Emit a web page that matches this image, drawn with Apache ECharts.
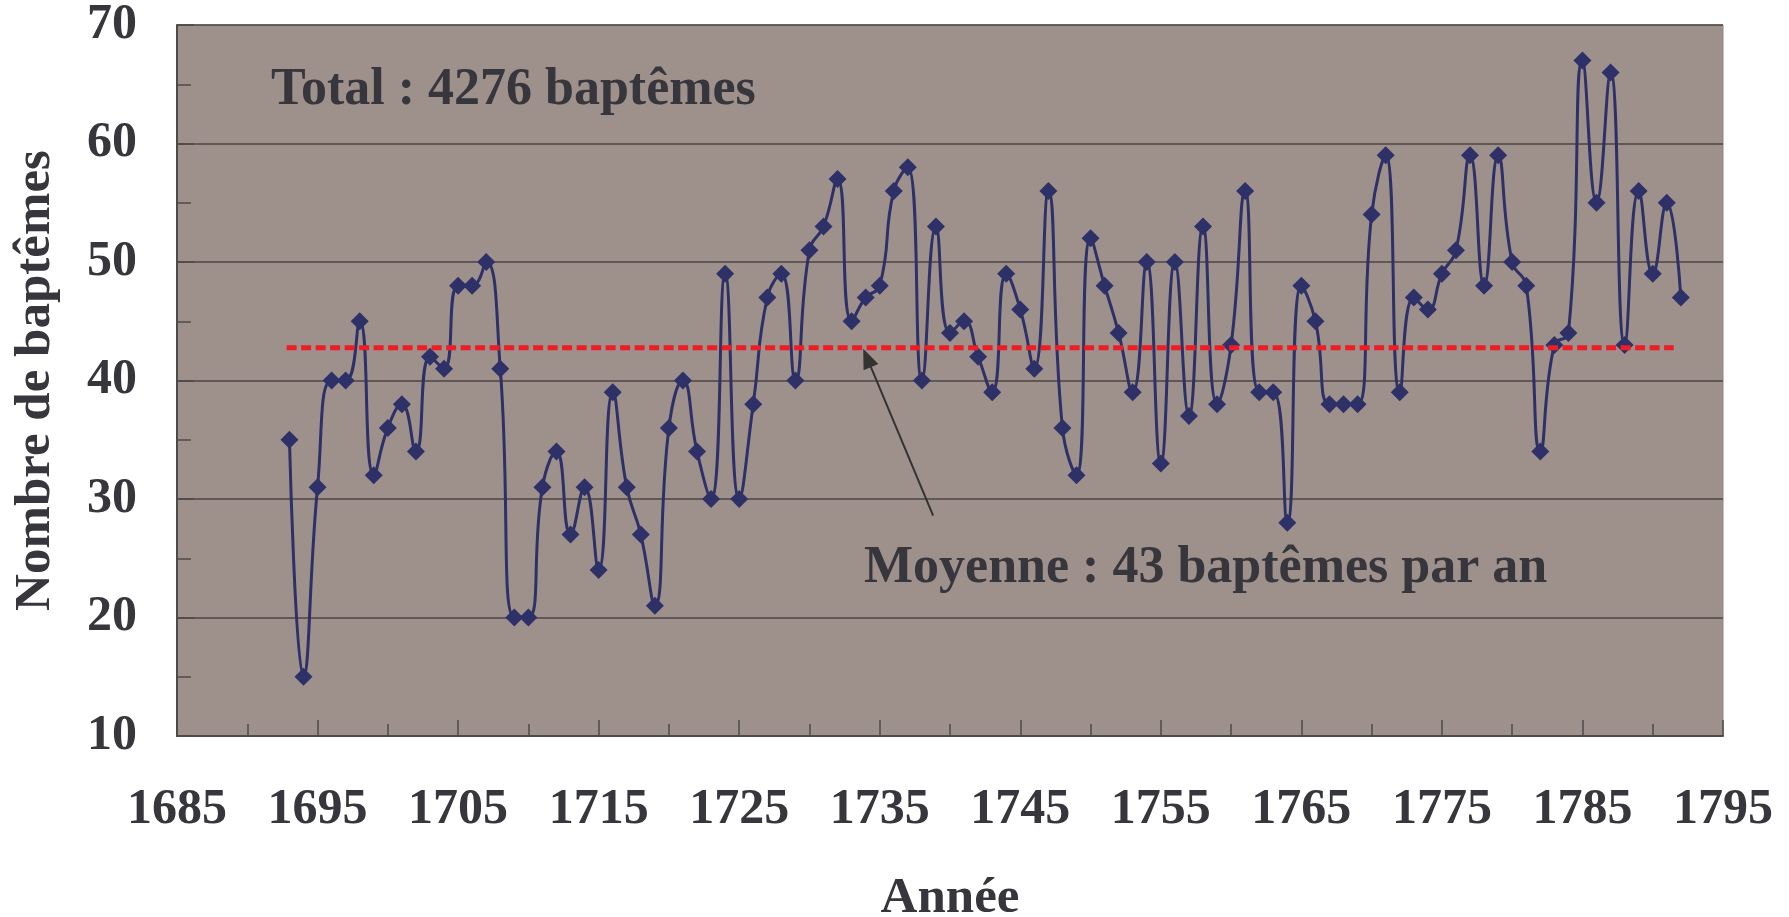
<!DOCTYPE html>
<html>
<head>
<meta charset="utf-8">
<script src="https://cdn.jsdelivr.net/npm/echarts@6/dist/echarts.min.js"></script>
<style>
html,body{margin:0;padding:0;background:#fff;}
#chart{width:1789px;height:917px;}
</style>
</head>
<body>
<div id="chart"></div>
<script>
// ---- data ----
const years = [1693,1694,1695,1696,1697,1698,1699,1700,1701,1702,1703,1704,1705,1706,1707,1708,1709,1710,1711,1712,1713,1714,1715,1716,1717,1718,1719,1720,1721,1722,1723,1724,1725,1726,1727,1728,1729,1730,1731,1732,1733,1734,1735,1736,1737,1738,1739,1740,1741,1742,1743,1744,1745,1746,1747,1748,1749,1750,1751,1752,1753,1754,1755,1756,1757,1758,1759,1760,1761,1762,1763,1764,1765,1766,1767,1768,1769,1770,1771,1772,1773,1774,1775,1776,1777,1778,1779,1780,1781,1782,1783,1784,1785,1786,1787,1788,1789,1790,1791,1792];
const baptemes = [35,15,31,40,40,45,32,36,38,34,42,41,48,48,50,41,20,20,31,34,27,31,24,39,31,27,21,36,40,34,30,49,30,38,47,49,40,51,53,57,45,47,48,56,58,40,53,44,45,42,39,49,46,41,56,36,32,52,48,44,39,50,33,50,37,53,38,43,56,39,39,28,48,45,38,38,38,54,59,39,47,46,49,51,59,48,59,50,48,34,43,44,67,55,66,43,56,49,55,47];
const meanValue = 42.76;
const meanRange = [1692.8, 1791.5];
const arrowFrom = [1738.8, 28.6];
const arrowTo = [1734.1, 41.9];
const totalText = 'Total : 4276 baptêmes';
const meanText = 'Moyenne : 43 baptêmes par an';
const xTitle = 'Année';
const yTitle = 'Nombre de baptêmes';

const seriesData = years.map((y, i) => [y, baptemes[i]]);
const meanData = meanRange.map(x => [x, meanValue]);

const FONT = '"Liberation Serif", "Times New Roman", serif';
const TXT = '#36363c';

const chart = echarts.init(document.getElementById('chart'), null, {renderer: 'canvas'});
chart.setOption({
  animation: false,
  backgroundColor: '#ffffff',
  grid: {
    left: 177, right: 66, top: 25, bottom: 181,
    outerBoundsMode: 'none', containLabel: false,
    show: true, backgroundColor: '#9e918c', borderColor: '#8e8480', borderWidth: 1
  },
  xAxis: [{
    type: 'value', min: 1685, max: 1795, interval: 5,
    name: xTitle, nameLocation: 'middle', nameGap: 137,
    nameTextStyle: {fontFamily: FONT, fontWeight: 'bold', fontSize: 51, color: TXT},
    axisLine: {lineStyle: {color: '#4e4a4a', width: 2}},
    axisTick: {inside: true, length: 12, lineStyle: {color: '#4e4a4a', width: 1.5}},
    axisLabel: {
      margin: 49, fontFamily: FONT, fontWeight: 'bold', fontSize: 50, color: TXT,
      formatter: v => ((v - 1685) % 10 === 0 ? String(v) : '')
    },
    splitLine: {show: false}
  }, {
    // decorative longer ticks every 10 years (positions 1685, 1695, ...)
    type: 'value', min: 0, max: 110, interval: 10, position: 'bottom',
    axisLine: {show: false},
    axisTick: {inside: true, length: 16, lineStyle: {color: '#4e4a4a', width: 1.5}},
    axisLabel: {show: false},
    splitLine: {show: false}
  }],
  yAxis: {
    type: 'value', min: 10, max: 70, interval: 10,
    name: yTitle, nameLocation: 'middle', nameGap: 116,
    nameTextStyle: {fontFamily: FONT, fontWeight: 'bold', fontSize: 51, color: TXT},
    axisLine: {show: true, lineStyle: {color: '#4e4a4a', width: 2}},
    axisTick: {show: true, inside: true, length: 17, lineStyle: {color: '#4e4a4a', width: 1.5}},
    minorTick: {show: true, splitNumber: 2, length: 14, lineStyle: {color: '#4e4a4a', width: 1.5}},
    axisLabel: {margin: 40, fontFamily: FONT, fontWeight: 'bold', fontSize: 50, color: TXT},
    splitLine: {show: true, lineStyle: {color: '#4a4646', width: 1.5}}
  },
  series: [{
    type: 'line', data: seriesData, smooth: 0.5,
    symbol: 'diamond', symbolSize: 18, showSymbol: true,
    lineStyle: {color: '#2e3068', width: 3},
    itemStyle: {color: '#2e3068'},
    z: 3
  }, {
    type: 'line', data: meanData, symbol: 'none',
    lineStyle: {color: '#ee1c24', width: 5, type: [10, 4.5]},
    z: 4,
    markLine: {
      silent: true, animation: false,
      symbol: ['none', 'triangle'], symbolSize: [16, 20],
      label: {show: false},
      lineStyle: {color: '#333333', width: 2, type: 'solid'},
      data: [[{coord: arrowFrom}, {coord: arrowTo}]]
    }
  }],
  graphic: [{
    type: 'text', left: 271, top: 65,
    style: {text: totalText, font: 'bold 52px ' + FONT, fill: TXT}
  }, {
    type: 'text', left: 864, top: 543,
    style: {text: meanText, font: 'bold 52px ' + FONT, fill: TXT}
  }]
});
</script>
</body>
</html>
